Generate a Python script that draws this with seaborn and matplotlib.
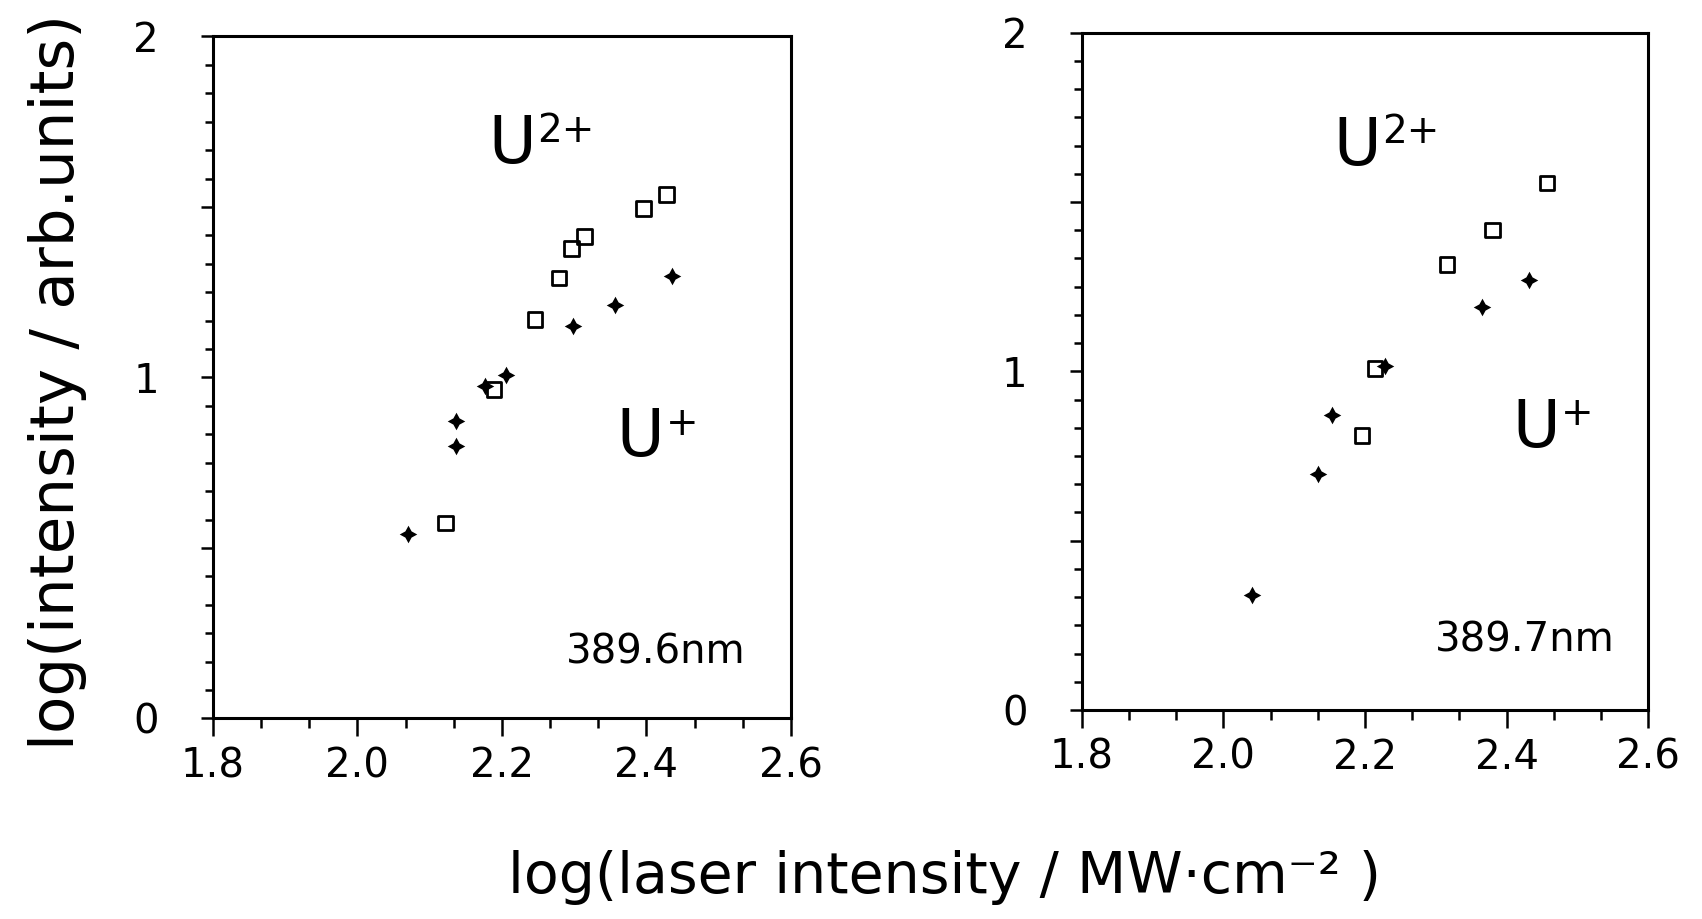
import matplotlib
matplotlib.use('Agg')

import numpy as np
import pandas as pd
import matplotlib.pyplot as plt
from matplotlib.ticker import MultipleLocator, FixedLocator
import seaborn as sns

# ---------------------------------------------------------------------------
# DATA
# ---------------------------------------------------------------------------
# left panel, 389.6 nm
LEFT_U1_X = [2.070, 2.137, 2.137, 2.176, 2.206, 2.299, 2.357, 2.435]
LEFT_U1_Y = [0.541, 0.799, 0.872, 0.975, 1.006, 1.150, 1.213, 1.298]
LEFT_U2_X = [2.122, 2.189, 2.246, 2.279, 2.296, 2.314, 2.396, 2.428]
LEFT_U2_Y = [0.573, 0.965, 1.170, 1.292, 1.379, 1.413, 1.496, 1.537]

# right panel, 389.7 nm
RIGHT_U1_X = [2.041, 2.133, 2.153, 2.228, 2.365, 2.432]
RIGHT_U1_Y = [0.340, 0.696, 0.870, 1.016, 1.191, 1.270]
RIGHT_U2_X = [2.196, 2.214, 2.316, 2.380, 2.457]
RIGHT_U2_Y = [0.810, 1.009, 1.316, 1.418, 1.556]

WAVELENGTHS = ["389.6nm", "389.7nm"]
ION_CHARGES = ["2+", "+"]
X_TICKS = [1.8, 2.0, 2.2, 2.4, 2.6]
X_TICK_LABELS = ["1.8", "2.0", "2.2", "2.4", "2.6"]
Y_TICKS = [0, 0.5, 1, 1.5, 2]
Y_TICK_LABELS = ["0", "", "1", "", "2"]

XLABEL = "log(laser intensity / MW·cm⁻² )"
YLABEL = "log(intensity / arb.units)"

# ---------------------------------------------------------------------------
# STYLE
# ---------------------------------------------------------------------------
sns.set_style("ticks")
plt.rcParams['font.family'] = ['DejaVu Sans']
plt.rcParams['text.color'] = 'black'
plt.rcParams['axes.labelcolor'] = 'black'
plt.rcParams['xtick.color'] = 'black'
plt.rcParams['ytick.color'] = 'black'

STAR = (4, 1, 0)

fig = plt.figure(figsize=(17.02, 9.19), dpi=100)
ax_l = fig.add_axes([0.1251, 0.2182, 0.3396, 0.7421])
ax_r = fig.add_axes([0.6356, 0.2274, 0.3328, 0.7370])


def draw_panel(ax, u1x, u1y, u2x, u2y):
    df1 = pd.DataFrame({"x": u1x, "y": u1y})
    df2 = pd.DataFrame({"x": u2x, "y": u2y})
    sns.scatterplot(data=df1, x="x", y="y", marker=STAR, s=160,
                    color="black", linewidth=0, ax=ax, zorder=3)
    sns.scatterplot(data=df2, x="x", y="y", marker="s", s=110,
                    facecolors="none", edgecolor="black", linewidth=2.0,
                    ax=ax, zorder=3)

    ax.set_xlim(1.8, 2.6)
    ax.set_ylim(0, 2)
    ax.set_xlabel("")
    ax.set_ylabel("")

    ax.xaxis.set_major_locator(FixedLocator(X_TICKS))
    ax.set_xticklabels(X_TICK_LABELS)
    ax.xaxis.set_minor_locator(MultipleLocator(0.2 / 3))
    ax.yaxis.set_major_locator(FixedLocator(Y_TICKS))
    ax.set_yticklabels(Y_TICK_LABELS)
    ax.yaxis.set_minor_locator(MultipleLocator(1 / 12))

    for sp in ax.spines.values():
        sp.set_visible(True)
        sp.set_linewidth(2.2)
        sp.set_color("black")

    ax.tick_params(axis="x", which="major", direction="out", length=13,
                   width=1.8, pad=7, labelsize=29)
    ax.tick_params(axis="x", which="minor", direction="out", length=7,
                   width=1.8)
    ax.tick_params(axis="y", which="major", direction="out", length=9,
                   width=1.8, pad=30, labelsize=29)
    ax.tick_params(axis="y", which="minor", direction="out", length=6,
                   width=1.8)


def ion_label(ax, x, y, charge):
    # big "U" with the charge set as a superscript right after it
    u = ax.text(x, y, "U", fontsize=47, ha="left", va="baseline")
    ax.annotate(charge, xy=(1, 1), xycoords=u, xytext=(1, 1),
                textcoords="offset points", fontsize=28,
                ha="left", va="top")


draw_panel(ax_l, LEFT_U1_X, LEFT_U1_Y, LEFT_U2_X, LEFT_U2_Y)
draw_panel(ax_r, RIGHT_U1_X, RIGHT_U1_Y, RIGHT_U2_X, RIGHT_U2_Y)

# labels inside the panels
ion_label(ax_l, 2.181, 1.629, ION_CHARGES[0])
ion_label(ax_l, 2.359, 0.770, ION_CHARGES[1])
ax_l.text(2.289, 0.160, WAVELENGTHS[0], fontsize=29, ha="left", va="baseline")

ion_label(ax_r, 2.155, 1.610, ION_CHARGES[0])
ion_label(ax_r, 2.408, 0.777, ION_CHARGES[1])
ax_r.text(2.299, 0.174, WAVELENGTHS[1], fontsize=29, ha="left", va="baseline")

# shared axis titles
fig.text(0.555, 0.045, XLABEL, fontsize=41, ha="center", va="center")
fig.text(0.034, 0.584, YLABEL, fontsize=44, rotation=90,
         ha="center", va="center")

fig.savefig("out.png", dpi=100, facecolor="white")
plt.close(fig)
